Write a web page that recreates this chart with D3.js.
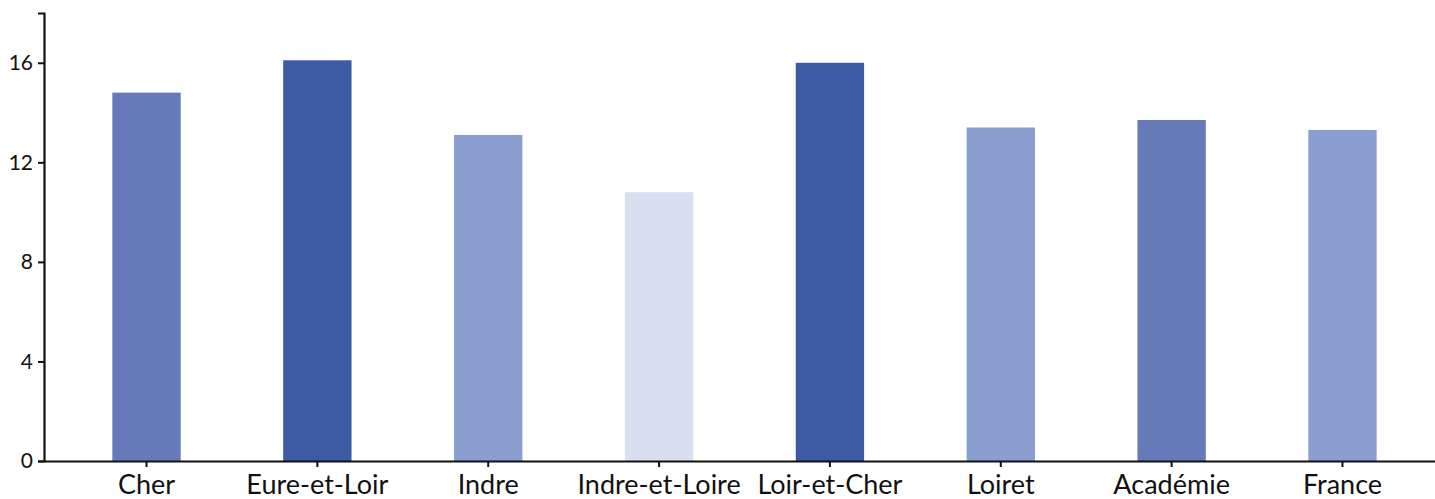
<!DOCTYPE html>
<html>
<head>
<meta charset="utf-8">
<script src="https://cdn.jsdelivr.net/npm/d3@7"></script>
<style>
  html, body { margin: 0; padding: 0; background: #fff; }
  svg { display: block; }
  .axis text { font-family: Lato, "Open Sans", sans-serif; fill: #111; }
  .axis path, .axis line { stroke: #111; }
</style>
</head>
<body>
<svg id="chart" width="1435" height="499"></svg>
<script>
// Departments of the academy plus the academy and national figures
const categories = ["Cher", "Eure-et-Loir", "Indre", "Indre-et-Loire", "Loir-et-Cher", "Loiret", "Académie", "France"];
const values = [14.8, 16.1, 13.1, 10.8, 16.0, 13.4, 13.7, 13.3];
const barColors = ["#667aba", "#3d5aa4", "#8b9ed0", "#d8dff0", "#3d5aa4", "#8b9ed0", "#667aba", "#8b9ed0"];
const yTicks = [0, 4, 8, 12, 16];

const svg = d3.select("#chart");
const plot = { left: 44, top: 13, bottom: 461, right: 1445 };

const x = d3.scaleBand()
  .domain(categories)
  .range([plot.left, plot.right])
  .paddingInner(0.6)
  .paddingOuter(0.4);

const y = d3.scaleLinear()
  .domain([0, 18])
  .range([plot.bottom, plot.top]);

svg.append("g")
  .selectAll("rect")
  .data(categories)
  .join("rect")
  .attr("x", d => x(d))
  .attr("y", (d, i) => y(values[i]))
  .attr("width", x.bandwidth())
  .attr("height", (d, i) => y(0) - y(values[i]))
  .attr("fill", (d, i) => barColors[i]);

const yAxis = svg.append("g")
  .attr("class", "axis")
  .attr("transform", `translate(${plot.left},0)`)
  .call(d3.axisLeft(y).tickValues(yTicks).tickSize(6).tickPadding(5).tickFormat(d3.format("d")));
yAxis.select(".domain").attr("stroke-width", 2.2);
yAxis.selectAll(".tick line").attr("stroke-width", 2);
yAxis.selectAll("text").style("font-size", "21px");

const xAxis = svg.append("g")
  .attr("class", "axis")
  .attr("transform", `translate(0,${plot.bottom})`)
  .call(d3.axisBottom(x).tickSize(6).tickPadding(8).tickSizeOuter(0));
xAxis.select(".domain").attr("stroke-width", 2.2);
xAxis.selectAll(".tick line").attr("stroke-width", 2);
xAxis.selectAll("text").style("font-size", "27px");
</script>
</body>
</html>
